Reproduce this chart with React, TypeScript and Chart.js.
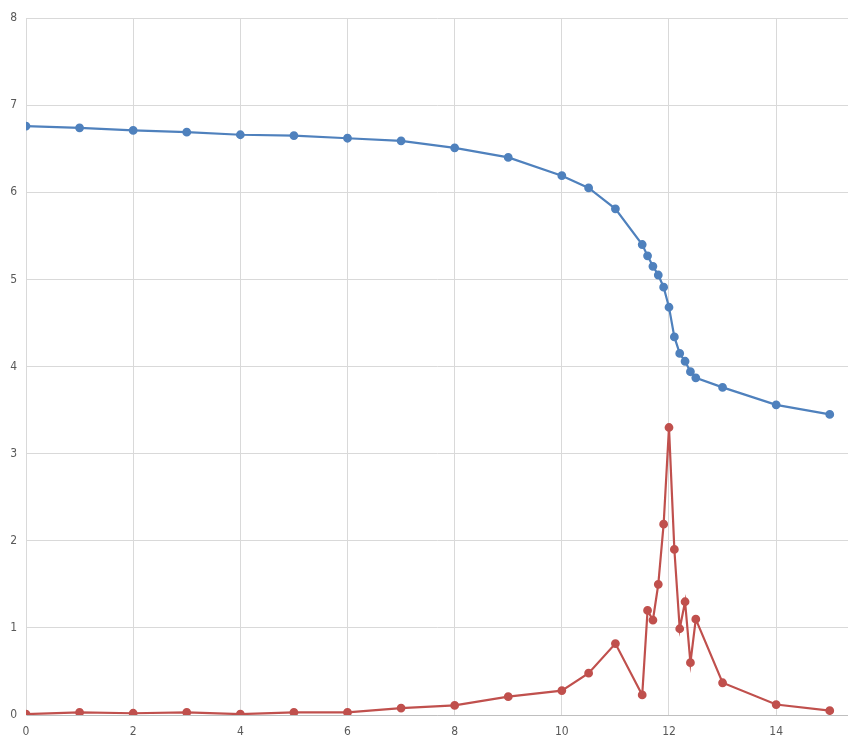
import React, { useEffect, useRef } from "react";
import { Chart, registerables } from "chart.js";

Chart.register(...registerables);

const blueX = [0, 1, 2, 3, 4, 5, 6, 7, 8, 9, 10, 10.5, 11, 11.5, 11.6, 11.7, 11.8, 11.9, 12, 12.1, 12.2, 12.3, 12.4, 12.5, 13, 14, 15];
const blueY = [6.76, 6.74, 6.71, 6.69, 6.66, 6.65, 6.62, 6.59, 6.51, 6.4, 6.19, 6.05, 5.81, 5.4, 5.27, 5.15, 5.05, 4.91, 4.68, 4.34, 4.15, 4.06, 3.94, 3.87, 3.76, 3.56, 3.45];

const redX = [0, 1, 2, 3, 4, 5, 6, 7, 8, 9, 10, 10.5, 11, 11.5, 11.6, 11.7, 11.8, 11.9, 12, 12.1, 12.2, 12.3, 12.4, 12.5, 13, 14, 15];
const redY = [0.01, 0.03, 0.02, 0.03, 0.01, 0.03, 0.03, 0.08, 0.11, 0.21, 0.28, 0.48, 0.82, 0.23, 1.2, 1.09, 1.5, 2.19, 3.3, 1.9, 0.99, 1.3, 0.6, 1.1, 0.37, 0.12, 0.05];

const xTicks = [0, 2, 4, 6, 8, 10, 12, 14];
const yTicks = [0, 1, 2, 3, 4, 5, 6, 7, 8];

const FONT = "'Liberation Sans Narrow', 'DejaVu Sans Condensed', 'Roboto', sans-serif";

export default function App() {
  const ref = useRef<HTMLCanvasElement | null>(null);
  useEffect(() => {
    if (!ref.current) return;
    const chart = new Chart(ref.current, {
      type: "line",
      data: {
        datasets: [
          {
            label: "A",
            data: blueX.map((x, i) => ({ x, y: blueY[i] })),
            borderColor: "#4f81bd",
            backgroundColor: "#4f81bd",
            borderWidth: 2.2,
            pointRadius: 3.3,
            pointHoverRadius: 3.3,
            tension: 0,
          },
          {
            label: "B",
            data: redX.map((x, i) => ({ x, y: redY[i] })),
            borderColor: "#c0504d",
            backgroundColor: "#c0504d",
            borderWidth: 2.2,
            pointRadius: 3.3,
            pointHoverRadius: 3.3,
            tension: 0,
          },
        ],
      },
      options: {
        animation: false,
        responsive: false,
        maintainAspectRatio: false,
        layout: { padding: { top: 18, right: 0, left: 0, bottom: 0 } },
        plugins: { legend: { display: false }, tooltip: { enabled: false } },
        scales: {
          x: {
            type: "linear",
            min: 0,
            max: 15.35,
            afterBuildTicks: (s: any) => {
              s.ticks = xTicks.map((v) => ({ value: v }));
            },
            afterFit: (s: any) => {
              s.height = 30;
            },
            grid: { color: "#d9d9d9", drawTicks: false, lineWidth: 1 },
            border: { color: "#bfbfbf", width: 1 },
            ticks: { padding: 10, color: "#595959", font: { family: FONT, size: 12 }, maxRotation: 0 },
          },
          y: {
            type: "linear",
            min: 0,
            max: 8,
            afterBuildTicks: (s: any) => {
              s.ticks = yTicks.map((v) => ({ value: v }));
            },
            afterFit: (s: any) => {
              s.width = 26;
            },
            grid: { color: "#d9d9d9", drawTicks: false, lineWidth: 1 },
            border: { color: "#d9d9d9", width: 1 },
            ticks: { padding: 9, color: "#595959", font: { family: FONT, size: 12 } },
          },
        },
      },
    });
    return () => chart.destroy();
  }, []);
  return (
    <div style={{ position: "absolute", left: 0, top: 0, width: 848, height: 745, overflow: "hidden", background: "#fff" }}>
      <canvas ref={ref} width={854} height={745} style={{ display: "block" }} />
    </div>
  );
}
